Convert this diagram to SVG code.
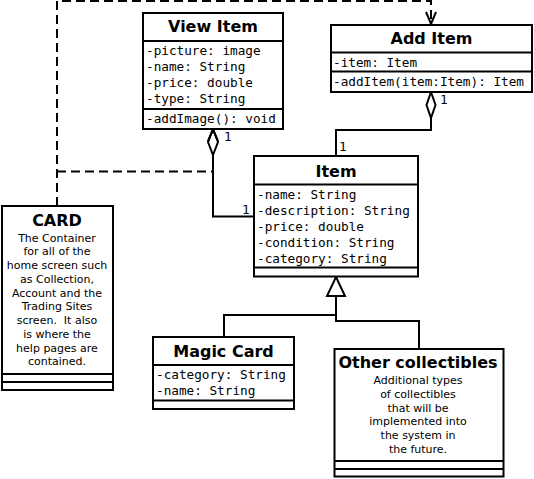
<svg xmlns="http://www.w3.org/2000/svg" width="534" height="479" viewBox="0 0 534 479">
<style>
.box{fill:#fff;stroke:#000;stroke-width:2}
.sep{stroke:#000;stroke-width:2}
.title{font-family:"DejaVu Sans",sans-serif;font-weight:bold;font-size:16px;text-anchor:middle;fill:#000}
.attr{font-family:"DejaVu Sans Mono",monospace;font-size:12.7px;fill:#000}
.desc{font-family:"DejaVu Sans",sans-serif;font-size:11px;text-anchor:middle;fill:#000}
.line{fill:none;stroke:#000;stroke-width:2}
.dash{fill:none;stroke:#000;stroke-width:2;stroke-dasharray:9,5}
.head{fill:#fff;stroke:#000;stroke-width:2}
.lbl{font-family:"DejaVu Sans Mono",monospace;font-size:12.7px;fill:#000}
</style>
<rect width="534" height="479" fill="#fff"/>
<g id="connectors">
<path class="dash" d="M57,206 V1 H431 V24"/>
<path class="line" d="M426,12 L431,24 L436,12"/>
<path class="dash" d="M57,171.5 H213 V157"/>
<path class="line" d="M254,216.5 H213 V155"/>
<path class="head" d="M213,129 L218,142 L213,155 L208,142 Z"/>
<path class="line" d="M208,141 L213,129.5 L218,141"/>
<path class="line" d="M336,156 V130 H431 V118"/>
<path class="head" d="M431,92 L435.5,105 L431,118 L426.5,105 Z"/>
<path class="line" d="M336,296 V321 H419 V349"/>
<path class="line" d="M336,315 H224 V337"/>
<path class="head" d="M336,277 L345,296 L327,296 Z"/>
<text class="lbl" x="224" y="141">1</text>
<text class="lbl" x="440" y="104">1</text>
<text class="lbl" x="339" y="151">1</text>
<text class="lbl" x="242" y="214">1</text>
</g>
<g id="view-item">
<rect class="box" x="143" y="13" width="140" height="116"/>
<line class="sep" x1="143" y1="41" x2="283" y2="41"/>
<line class="sep" x1="143" y1="109" x2="283" y2="109"/>
<text class="title" x="213" y="32">View Item</text>
<text class="attr" x="146" y="55">-picture: image</text>
<text class="attr" x="146" y="71">-name: String</text>
<text class="attr" x="146" y="87">-price: double</text>
<text class="attr" x="146" y="103">-type: String</text>
<text class="attr" x="146" y="123">-addImage(): void</text>
</g>
<g id="add-item">
<rect class="box" x="331" y="25" width="201" height="67"/>
<line class="sep" x1="331" y1="52.5" x2="532" y2="52.5"/>
<line class="sep" x1="331" y1="71.5" x2="532" y2="71.5"/>
<text class="title" x="431.5" y="44">Add Item</text>
<text class="attr" x="333" y="67">-item: Item</text>
<text class="attr" x="333" y="86">-addItem(item:Item): Item</text>
</g>
<g id="item">
<rect class="box" x="254" y="156" width="164" height="120.5"/>
<line class="sep" x1="254" y1="184.5" x2="418" y2="184.5"/>
<line class="sep" x1="254" y1="267.5" x2="418" y2="267.5"/>
<text class="title" x="336" y="176.5">Item</text>
<text class="attr" x="257" y="199">-name: String</text>
<text class="attr" x="257" y="215">-description: String</text>
<text class="attr" x="257" y="231">-price: double</text>
<text class="attr" x="257" y="247">-condition: String</text>
<text class="attr" x="257" y="263">-category: String</text>
</g>
<g id="card">
<rect class="box" x="2" y="206" width="111" height="184"/>
<line class="sep" x1="2" y1="374" x2="113" y2="374"/>
<line class="sep" x1="2" y1="382" x2="113" y2="382"/>
<text class="title" x="57" y="226">CARD</text>
<text class="desc" x="57" y="241.5">The Container</text>
<text class="desc" x="57" y="255.3">for all of the</text>
<text class="desc" x="57" y="269">home screen such</text>
<text class="desc" x="57" y="282.8">as Collection,</text>
<text class="desc" x="57" y="296.5">Account and the</text>
<text class="desc" x="57" y="310.3">Trading Sites</text>
<text class="desc" x="57" y="324" xml:space="preserve">screen.  It also</text>
<text class="desc" x="57" y="337.8">is where the</text>
<text class="desc" x="57" y="351.5">help pages are</text>
<text class="desc" x="57" y="365.3">contained.</text>
</g>
<g id="magic-card">
<rect class="box" x="153" y="337" width="141" height="72"/>
<line class="sep" x1="153" y1="365" x2="294" y2="365"/>
<line class="sep" x1="153" y1="400.5" x2="294" y2="400.5"/>
<text class="title" x="223.5" y="357">Magic Card</text>
<text class="attr" x="156" y="379">-category: String</text>
<text class="attr" x="156" y="395">-name: String</text>
</g>
<g id="other-collectibles">
<rect class="box" x="334.5" y="349" width="169" height="127.5"/>
<line class="sep" x1="334.5" y1="461" x2="503.5" y2="461"/>
<line class="sep" x1="334.5" y1="469" x2="503.5" y2="469"/>
<text class="title" x="418" y="368">Other collectibles</text>
<text class="desc" x="418" y="384">Additional types</text>
<text class="desc" x="418" y="397.8">of collectibles</text>
<text class="desc" x="418" y="411.5">that will be</text>
<text class="desc" x="418" y="425.3">implemented into</text>
<text class="desc" x="418" y="439">the system in</text>
<text class="desc" x="418" y="452.8">the future.</text>
</g>
</svg>
